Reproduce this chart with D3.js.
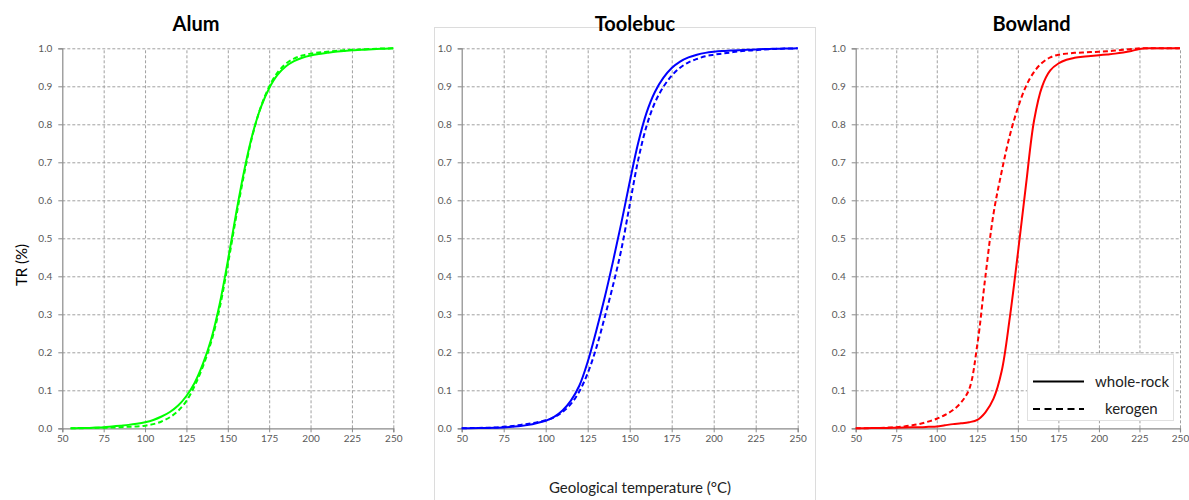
<!DOCTYPE html>
<html><head><meta charset="utf-8">
<script src="https://cdn.jsdelivr.net/npm/d3@7"></script>
<style>
html,body{margin:0;padding:0;background:#fff;}
svg{display:block;font-family:Lato,"Open Sans",sans-serif;}
</style></head>
<body><svg id="c" width="1189" height="500"></svg>
<script>
const temps = [50,55,60,65,70,75,80,85,90,95,100,105,110,115,120,125,130,135,140,145,150,155,160,165,170,175,180,185,190,195,200,205,210,215,220,225,230,235,240,245,250];
const xTicks = [50,75,100,125,150,175,200,225,250];
const yTicks = [0,0.1,0.2,0.3,0.4,0.5,0.6,0.7,0.8,0.9,1.0];
const panelNames = ["Alum","Toolebuc","Bowland"];
const seriesNames = ["whole-rock","kerogen"];

const alumWhole = [null,0,0.0005,0.001,0.002,0.003,0.005,0.007,0.009,0.012,0.016,0.022,0.031,0.043,0.060,0.085,0.120,0.170,0.235,0.325,0.440,0.565,0.680,0.775,0.845,0.895,0.930,0.952,0.966,0.975,0.981,0.985,0.988,0.991,0.993,0.995,0.996,0.997,0.998,0.999,1.0];
const alumKerogen = [null,0,0.0002,0.0005,0.001,0.0015,0.002,0.003,0.004,0.005,0.007,0.011,0.018,0.029,0.046,0.072,0.112,0.163,0.228,0.315,0.430,0.555,0.672,0.772,0.846,0.899,0.936,0.959,0.973,0.981,0.986,0.989,0.991,0.993,0.995,0.996,0.997,0.998,0.999,0.9995,1.0];
const tooleWhole = [0,0.0002,0.0005,0.001,0.0015,0.002,0.004,0.006,0.009,0.014,0.020,0.030,0.047,0.073,0.112,0.175,0.255,0.342,0.438,0.540,0.648,0.750,0.830,0.885,0.922,0.948,0.965,0.976,0.983,0.988,0.991,0.993,0.994,0.995,0.996,0.997,0.998,0.9985,0.999,0.9995,1.0];
const tooleKerogen = [0,0.0005,0.001,0.0015,0.002,0.004,0.006,0.009,0.012,0.016,0.021,0.029,0.043,0.064,0.097,0.145,0.210,0.290,0.375,0.470,0.588,0.705,0.795,0.857,0.898,0.928,0.949,0.963,0.972,0.979,0.983,0.986,0.989,0.992,0.994,0.995,0.997,0.998,0.999,0.9995,1.0];
const bowWhole = [0,0.0002,0.0005,0.0007,0.001,0.0015,0.002,0.0025,0.003,0.004,0.005,0.008,0.011,0.013,0.016,0.022,0.042,0.078,0.150,0.290,0.460,0.640,0.810,0.900,0.942,0.960,0.970,0.975,0.978,0.980,0.982,0.984,0.986,0.989,0.993,0.998,1.0,1.0,1.0,1.0,1.0];
const bowKerogen = [0,0.0002,0.0005,0.001,0.002,0.003,0.005,0.008,0.012,0.018,0.025,0.035,0.048,0.068,0.103,0.220,0.400,0.565,0.675,0.770,0.843,0.900,0.938,0.962,0.976,0.983,0.986,0.988,0.989,0.990,0.991,0.992,0.994,0.996,0.998,1.0,1.0,1.0,1.0,1.0,1.0];

const panelData = [[alumWhole, alumKerogen],[tooleWhole, tooleKerogen],[bowWhole, bowKerogen]];
const colors = ["#00ff00","#0000ff","#ff0000"];

const svg = d3.select("#c");
const layout = [
  {x0:62.3, x1:393.3, titleX:196},
  {x0:461.7, x1:797.7, titleX:635},
  {x0:855.7, x1:1180, titleX:1031.5}
];
const yTop = 48.3, yBot = 428.3;
const gridColor = "#a0a0a0", axisColor = "#8a8a8a", labelColor = "#595959";

// middle panel frame
svg.append("rect").attr("x",434.5).attr("y",27.5).attr("width",381).attr("height",490)
  .attr("fill","#fff").attr("stroke","#dcdcdc").attr("stroke-width",1);

const y = d3.scaleLinear().domain([0,1]).range([yBot,yTop]);

panelData.forEach((series,i)=>{
  const L = layout[i];
  const x = d3.scaleLinear().domain([50,250]).range([L.x0,L.x1]);
  const g = svg.append("g");

  // grid
  g.append("g").attr("transform",`translate(0,${yBot})`)
    .call(d3.axisBottom(x).tickValues(xTicks.slice(1)).tickSize(-(yBot-yTop)).tickFormat(""))
    .call(s=>s.select(".domain").remove())
    .call(s=>s.selectAll("line").attr("stroke",gridColor).attr("stroke-dasharray","3,2"));
  g.append("g").attr("transform",`translate(${L.x0},0)`)
    .call(d3.axisLeft(y).tickValues(yTicks.slice(1)).tickSize(-(L.x1-L.x0)).tickFormat(""))
    .call(s=>s.select(".domain").remove())
    .call(s=>s.selectAll("line").attr("stroke",gridColor).attr("stroke-dasharray","3,2"));

  // axes
  const ax = g.append("g").attr("transform",`translate(0,${yBot})`)
    .call(d3.axisBottom(x).tickValues(xTicks).tickSize(4).tickPadding(3).tickFormat(d3.format("d")));
  ax.select(".domain").attr("stroke",axisColor).attr("stroke-width",1.2);
  ax.selectAll("line").attr("stroke",axisColor);
  ax.selectAll("text").attr("fill",labelColor).style("font-size","10px").style("font-family","Lato, 'Open Sans', sans-serif");

  const ay = g.append("g").attr("transform",`translate(${L.x0},0)`)
    .call(d3.axisLeft(y).tickValues(yTicks).tickSize(4).tickPadding(6).tickFormat(d3.format(".1f")));
  ay.select(".domain").attr("stroke",axisColor).attr("stroke-width",1.2);
  ay.selectAll("line").attr("stroke",axisColor);
  ay.selectAll("text").attr("fill",labelColor).style("font-size","10px").style("font-family","Lato, 'Open Sans', sans-serif");

  // lines
  const line = d3.line().defined(d=>d[1]!==null).x(d=>x(d[0])).y(d=>y(d[1])).curve(d3.curveCatmullRom.alpha(0.5));
  series.forEach((vals,j)=>{
    const pts = temps.map((t,k)=>[t,vals[k]]);
    g.append("path").datum(pts).attr("d",line).attr("fill","none")
      .attr("stroke",colors[i]).attr("stroke-width",2)
      .attr("stroke-dasharray", j===1 ? "5,3" : null);
  });

  // title
  svg.append("text").attr("x",L.titleX).attr("y",31).attr("text-anchor","middle")
    .style("font-size","20px").style("font-weight","bold").attr("fill","#000").text(panelNames[i]);
});

// axis titles
svg.append("text").attr("transform","translate(27,265) rotate(-90)").attr("text-anchor","middle")
  .style("font-size","15px").attr("fill","#000").text("TR (%)");
svg.append("text").attr("x",640).attr("y",493).attr("text-anchor","middle")
  .style("font-size","15px").attr("fill","#222").text("Geological temperature (°C)");

// legend
const lg = svg.append("g");
lg.append("rect").attr("x",1027.5).attr("y",354.5).attr("width",146).attr("height",66)
  .attr("fill","#fff").attr("stroke","#e0e0e0");
seriesNames.forEach((n,j)=>{
  const ly = j===0 ? 381.5 : 409;
  lg.append("line").attr("x1",1033).attr("x2",1084).attr("y1",ly).attr("y2",ly)
    .attr("stroke","#000").attr("stroke-width",2).attr("stroke-dasharray", j===1 ? "7,4.5" : null);
  lg.append("text").attr("x", j===0 ? 1095 : 1105).attr("y", ly+5)
    .style("font-size","15px").attr("fill","#222").text(n);
});
</script></body></html>
